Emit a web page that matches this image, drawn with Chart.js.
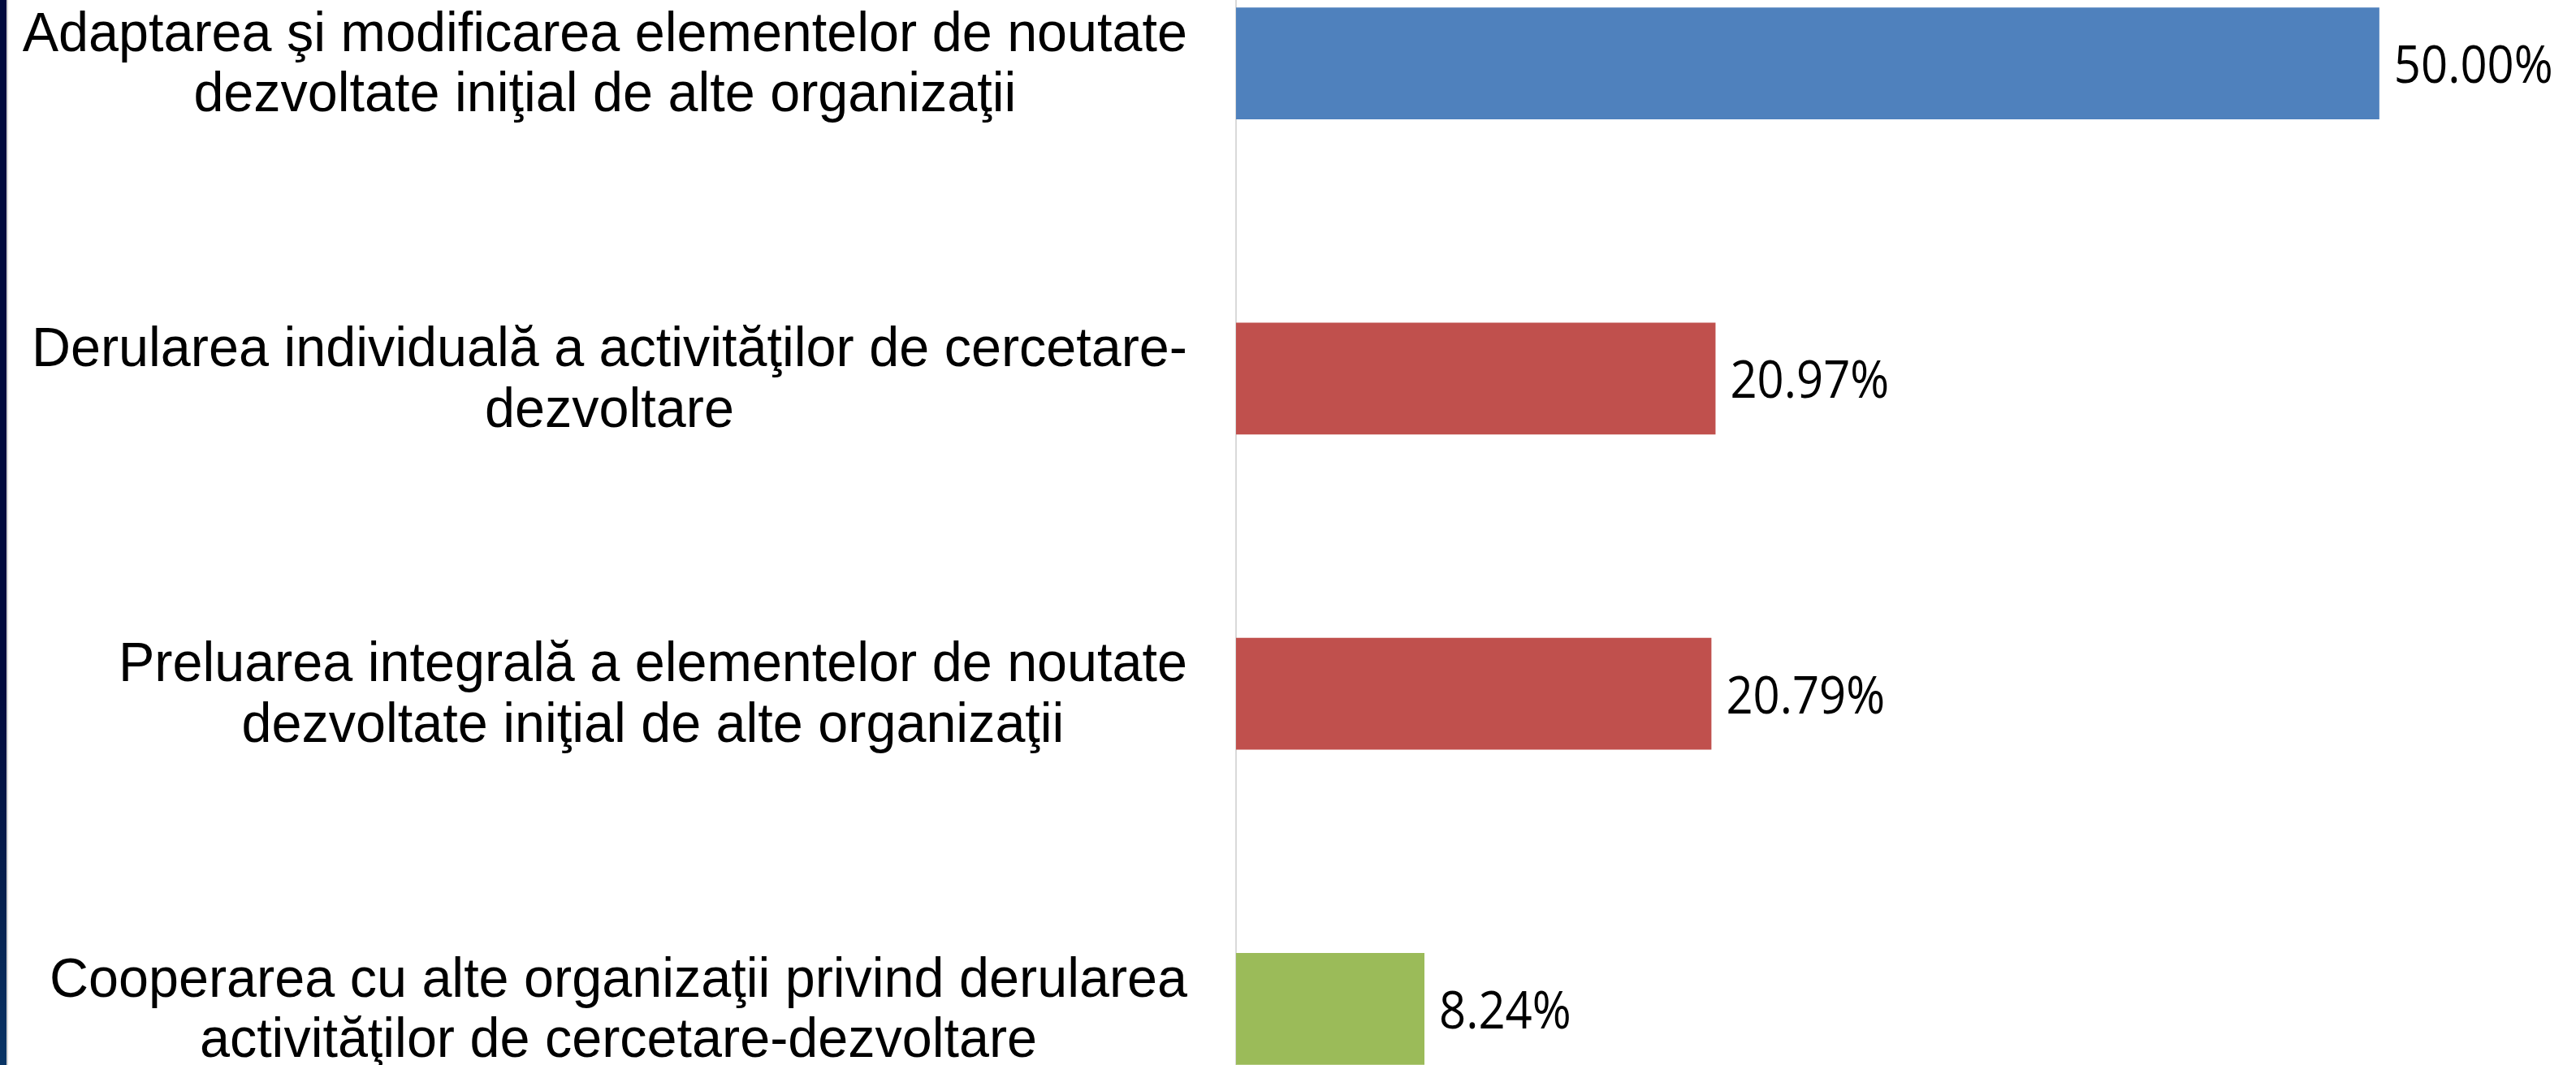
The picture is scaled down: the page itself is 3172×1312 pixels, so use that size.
<!DOCTYPE html>
<html>
<head>
<meta charset="utf-8">
<script src="https://cdn.jsdelivr.net/npm/chart.js@4"></script>
<style>
  html, body { margin: 0; padding: 0; background: #fff; overflow: hidden; }
  #wrap { position: relative; width: 3172px; height: 1312px; overflow: hidden; }
  #strip { position: absolute; left: 0; top: 0; width: 8px; height: 1312px;
           background: linear-gradient(#020b3e 0%, #020b3e 65%, #06214f 85%, #0a3566 100%); }
  #edge { position: absolute; left: 8px; top: 0; width: 2px; height: 1312px; background: #d6d6d6; }
  #chart { position: absolute; left: 0; top: -116px; }
</style>
</head>
<body>
<div id="wrap">
  <div id="strip"></div>
  <div id="edge"></div>
  <canvas id="chart" width="3172" height="1553"></canvas>
</div>
<script>
// categorii (pe două rânduri)
const categories = [
  ["Adaptarea şi modificarea elementelor de noutate", "dezvoltate iniţial de alte organizaţii"],
  ["Derularea individuală a activităţilor de cercetare-", "dezvoltare"],
  ["Preluarea integrală a elementelor de noutate", "dezvoltate iniţial de alte organizaţii"],
  ["Cooperarea cu alte organizaţii privind derularea", "activităţilor de cercetare-dezvoltare"]
];
// valori (%)
const values = [50.00, 20.97, 20.79, 8.24];
const barColors = ["#4F81BD", "#C0504D", "#C0504D", "#9BBB59"];

// text uşor întins pe verticală, ca în imaginea originală
function drawText(ctx, text, x, y, sy) {
  ctx.save();
  ctx.translate(x, y);
  ctx.scale(1, sy);
  ctx.fillText(text, 0, 0);
  ctx.restore();
}

// etichete de categorie (centrate pe fiecare bloc) + valori la capătul barelor
var labelPlugin = {
  id: 'labelPlugin',
  afterDraw(chart) {
    var ctx = chart.ctx;
    var yScale = chart.scales.y;
    ctx.save();
    ctx.fillStyle = '#000';
    ctx.font = '66.5px "Liberation Sans", Arial, sans-serif';
    ctx.textAlign = 'center';
    ctx.textBaseline = 'alphabetic';
    categories.forEach((lines, i) => {
      var yc = yScale.getPixelForValue(i);
      var widest = Math.max(...lines.map(l => ctx.measureText(l).width));
      var xc = yScale.right - 60 - widest / 2;
      lines.forEach((line, j) => {
        drawText(ctx, line, xc, yc + (j - (lines.length - 1) / 2) * 74.5 + 22, 1.03);
      });
    });
    ctx.font = '58px "Open Sans", sans-serif';
    ctx.textAlign = 'left';
    chart.getDatasetMeta(0).data.forEach((bar, i) => {
      drawText(ctx, values[i].toFixed(2) + '%', bar.x + 18, bar.y + 24, 1.09);
    });
    ctx.restore();
  }
};

var chart = new Chart(document.getElementById('chart').getContext('2d'), {
  type: 'bar',
  data: {
    labels: categories,
    datasets: [{
      data: values,
      backgroundColor: barColors
    }]
  },
  options: {
    indexAxis: 'y',
    responsive: false,
    animation: false,
    barPercentage: 0.3546,
    categoryPercentage: 1.0,
    layout: { padding: 0 },
    scales: {
      x: { display: false, min: 0, max: 58.6 },
      y: {
        grid: { display: false },
        border: { display: true, color: '#d9d9d9', width: 2 },
        ticks: { display: false },
        afterFit: function (scale) { scale.width = 1522; }
      }
    },
    plugins: {
      legend: { display: false },
      tooltip: { enabled: false }
    }
  },
  plugins: [labelPlugin]
});
</script>
</body>
</html>
